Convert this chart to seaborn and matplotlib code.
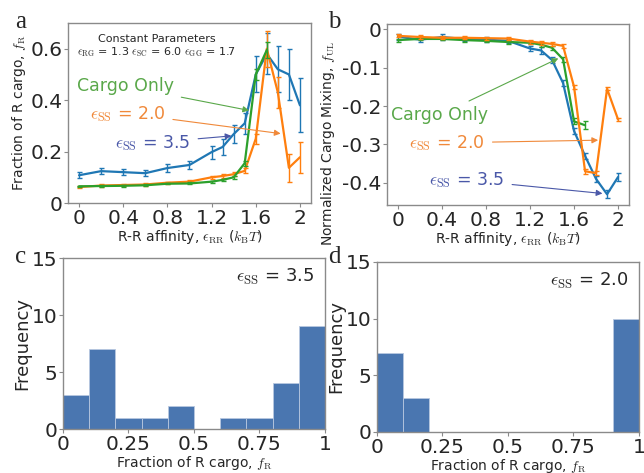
import numpy as np
import pandas as pd
import matplotlib
matplotlib.use("Agg")
import matplotlib.pyplot as plt
import seaborn as sns

sns.set_style("white")
plt.rcParams['font.family'] = ['DejaVu Sans']
plt.rcParams['mathtext.fontset'] = 'cm'
plt.rcParams['axes.unicode_minus'] = False

# ---------------- data ----------------
eps_rr = [0, 0.2, 0.4, 0.6, 0.8, 1.0, 1.2, 1.3, 1.4, 1.5, 1.6, 1.7, 1.8, 1.9, 2.0]
eps_rr_cargo = [0, 0.2, 0.4, 0.6, 0.8, 1.0, 1.2, 1.3, 1.4, 1.5, 1.6, 1.7]

fR_ss35 = [0.108, 0.124, 0.120, 0.116, 0.136, 0.148, 0.198, 0.218, 0.268, 0.31, 0.50, 0.58, 0.52, 0.50, 0.38]
fR_ss35_err = [0.012, 0.012, 0.012, 0.012, 0.015, 0.015, 0.025, 0.03, 0.035, 0.04, 0.07, 0.08, 0.09, 0.10, 0.105]
fR_ss20 = [0.062, 0.068, 0.070, 0.072, 0.079, 0.083, 0.100, 0.105, 0.112, 0.125, 0.25, 0.60, 0.43, 0.137, 0.178]
fR_ss20_err = [0.004, 0.004, 0.004, 0.004, 0.004, 0.005, 0.005, 0.006, 0.007, 0.01, 0.02, 0.07, 0.06, 0.055, 0.06]
fR_cargo = [0.065, 0.066, 0.067, 0.069, 0.075, 0.076, 0.083, 0.090, 0.100, 0.155, 0.50, 0.595]
fR_cargo_err = [0.003, 0.003, 0.003, 0.003, 0.003, 0.004, 0.004, 0.004, 0.005, 0.01, 0.02, 0.03]

fUL_ss35 = [-0.019, -0.027, -0.020, -0.025, -0.027, -0.030, -0.050, -0.055, -0.080, -0.140, -0.265, -0.330, -0.390, -0.430, -0.385]
fUL_ss35_err = [0.008, 0.007, 0.007, 0.006, 0.006, 0.006, 0.007, 0.008, 0.008, 0.008, 0.008, 0.008, 0.008, 0.01, 0.01]
fUL_ss20 = [-0.017, -0.020, -0.022, -0.022, -0.023, -0.024, -0.032, -0.035, -0.038, -0.043, -0.150, -0.370, -0.375, -0.155, -0.235]
fUL_ss20_err = [0.004, 0.004, 0.004, 0.004, 0.004, 0.004, 0.005, 0.005, 0.005, 0.006, 0.006, 0.006, 0.006, 0.004, 0.004]
fUL_cargo = [-0.028, -0.025, -0.025, -0.028, -0.030, -0.033, -0.035, -0.040, -0.048, -0.078, -0.240, -0.250]
fUL_cargo_err = [0.004, 0.004, 0.004, 0.004, 0.004, 0.004, 0.004, 0.005, 0.005, 0.006, 0.008, 0.01]

bin_edges = [0, 0.1, 0.2, 0.3, 0.4, 0.5, 0.6, 0.7, 0.8, 0.9, 1.0]
counts_ss35 = [3, 7, 1, 1, 2, 0, 1, 1, 4, 9]
counts_ss20 = [7, 3, 0, 0, 0, 0, 0, 0, 0, 10]

xticks_line = [0, 0.4, 0.8, 1.2, 1.6, 2]
xticklabels_line = ["0", "0.4", "0.8", "1.2", "1.6", "2"]
yticks_a = [0, 0.2, 0.4, 0.6]
yticklabels_a = ["0", "0.2", "0.4", "0.6"]
yticks_b = [0, -0.1, -0.2, -0.3, -0.4]
yticklabels_b = ["0", "-0.1", "-0.2", "-0.3", "-0.4"]
xticks_hist = [0, 0.25, 0.5, 0.75, 1]
xticklabels_hist = ["0", "0.25", "0.5", "0.75", "1"]
yticks_hist = [0, 5, 10, 15]

C_BLUE = "#1f77b4"
C_ORANGE = "#ff7f0e"
C_GREEN = "#2ca02c"
T_BLUE = "#4a58a8"
T_ORANGE = "#f0893a"
T_GREEN = "#5aa84a"
HIST = "#4a76b0"
SPINE = "#8a8a8a"

fig = plt.figure(figsize=(6.44, 4.73), dpi=100)
ax_a = fig.add_axes([0.1056, 0.5708, 0.3773, 0.3805])
ax_b = fig.add_axes([0.601, 0.5666, 0.3758, 0.3827])
ax_c = fig.add_axes([0.0978, 0.0930, 0.4068, 0.3615])
ax_d = fig.add_axes([0.5854, 0.0867, 0.4068, 0.3594])

TICK_FS = 14.5
LAB_FS = 10
ANN_FS = 12.5

def style(ax):
    for s in ax.spines.values():
        s.set_color(SPINE)
        s.set_linewidth(1.0)
    ax.tick_params(axis='both', which='both', direction='out', length=3, width=0.8,
                   color=SPINE, labelsize=TICK_FS, bottom=True, left=True, pad=1.0)

def series(ax, x, y, e, color):
    df = pd.DataFrame({"x": x, "y": y})
    sns.lineplot(data=df, x="x", y="y", ax=ax, color=color, lw=1.6, legend=False)
    ax.errorbar(x, y, yerr=e, fmt='none', ecolor=color, elinewidth=1.0, capsize=1.8, capthick=1.0)

arrow_kw = dict(arrowstyle='-|>', lw=0.8, mutation_scale=9, shrinkA=3, shrinkB=0)

# ---- panel a ----
series(ax_a, eps_rr, fR_ss35, fR_ss35_err, C_BLUE)
series(ax_a, eps_rr, fR_ss20, fR_ss20_err, C_ORANGE)
series(ax_a, eps_rr_cargo, fR_cargo, fR_cargo_err, C_GREEN)
ax_a.set_xlim(-0.1, 2.1)
ax_a.set_ylim(0, 0.7)
ax_a.set_xticks(xticks_line)
ax_a.set_xticklabels(xticklabels_line)
ax_a.set_yticks(yticks_a)
ax_a.set_yticklabels(yticklabels_a)
ax_a.set_xlabel(r"R-R affinity, $\epsilon_{\rm RR}$ ($k_{\rm B}T$)", fontsize=LAB_FS, labelpad=0)
ax_a.set_ylabel(r"Fraction of R cargo, $f_{\rm R}$", fontsize=LAB_FS, labelpad=2)
style(ax_a)
ax_a.text(0.705, 0.638, "Constant Parameters", fontsize=8, ha='center', va='center')
ax_a.text(0.705, 0.587, r"$\epsilon_{\rm RG}$ = 1.3 $\epsilon_{\rm SC}$ = 6.0 $\epsilon_{\rm GG}$ = 1.7",
          fontsize=8, ha='center', va='center')
ax_a.annotate("Cargo Only", xy=(1.54, 0.36), xytext=(0.42, 0.454), color=T_GREEN, fontsize=ANN_FS,
              ha='center', va='center', arrowprops=dict(color=T_GREEN, **arrow_kw))
ax_a.annotate(r"$\epsilon_{\rm SS}$ = 2.0", xy=(1.825, 0.27), xytext=(0.44, 0.348), color=T_ORANGE,
              fontsize=ANN_FS, ha='center', va='center', arrowprops=dict(color=T_ORANGE, **arrow_kw))
ax_a.annotate(r"$\epsilon_{\rm SS}$ = 3.5", xy=(1.38, 0.261), xytext=(0.67, 0.235), color=T_BLUE,
              fontsize=ANN_FS, ha='center', va='center', arrowprops=dict(color=T_BLUE, **arrow_kw))

# ---- panel b ----
series(ax_b, eps_rr, fUL_ss35, fUL_ss35_err, C_BLUE)
series(ax_b, eps_rr_cargo, fUL_cargo, fUL_cargo_err, C_GREEN)
series(ax_b, eps_rr, fUL_ss20, fUL_ss20_err, C_ORANGE)
ax_b.set_xlim(-0.1, 2.1)
ax_b.set_ylim(-0.458, 0.014)
ax_b.set_xticks(xticks_line)
ax_b.set_xticklabels(xticklabels_line)
ax_b.set_yticks(yticks_b)
ax_b.set_yticklabels(yticklabels_b)
ax_b.set_xlabel(r"R-R affinity, $\epsilon_{\rm RR}$ ($k_{\rm B}T$)", fontsize=LAB_FS, labelpad=0)
ax_b.set_ylabel(r"Normalized Cargo Mixing, $f_{\rm UL}$", fontsize=LAB_FS, labelpad=2)
style(ax_b)
ax_b.yaxis.set_label_coords(-0.205, 0.34)
ax_b.annotate("Cargo Only", xy=(1.457, -0.0757), xytext=(0.377, -0.2235), color=T_GREEN, fontsize=ANN_FS,
              ha='center', va='center', arrowprops=dict(color=T_GREEN, **arrow_kw))
ax_b.annotate(r"$\epsilon_{\rm SS}$ = 2.0", xy=(1.819, -0.289), xytext=(0.447, -0.296), color=T_ORANGE,
              fontsize=ANN_FS, ha='center', va='center', arrowprops=dict(color=T_ORANGE, **arrow_kw))
ax_b.annotate(r"$\epsilon_{\rm SS}$ = 3.5", xy=(1.858, -0.428), xytext=(0.627, -0.393), color=T_BLUE,
              fontsize=ANN_FS, ha='center', va='center', arrowprops=dict(color=T_BLUE, **arrow_kw))

# ---- panels c, d ----
centers = [(bin_edges[i] + bin_edges[i + 1]) / 2 for i in range(len(bin_edges) - 1)]
for ax, counts, lab in [(ax_c, counts_ss35, r"$\epsilon_{\rm SS}$ = 3.5"),
                        (ax_d, counts_ss20, r"$\epsilon_{\rm SS}$ = 2.0")]:
    sns.histplot(x=centers, weights=counts, bins=bin_edges, ax=ax, color=HIST, alpha=1.0,
                 edgecolor="#b8c8e0", linewidth=0.6)
    ax.set_xlim(0, 1)
    ax.set_ylim(0, 15)
    ax.set_xticks(xticks_hist)
    ax.set_xticklabels(xticklabels_hist)
    ax.set_yticks(yticks_hist)
    ax.set_xlabel(r"Fraction of R cargo, $f_{\rm R}$", fontsize=LAB_FS, labelpad=0)
    ax.set_ylabel("Frequency", fontsize=13, labelpad=0)
    style(ax)
    ax.text(0.96, 0.89, lab, transform=ax.transAxes, fontsize=13, ha='right', va='center')

# panel letters
for x, y, s in [(0.023, 0.941, "a"), (0.509, 0.941, "b"), (0.023, 0.444, "c"), (0.509, 0.444, "d")]:
    fig.text(x, y, s, fontsize=18, family='Liberation Serif', ha='left', va='baseline')

fig.savefig("out.png", dpi=100)
